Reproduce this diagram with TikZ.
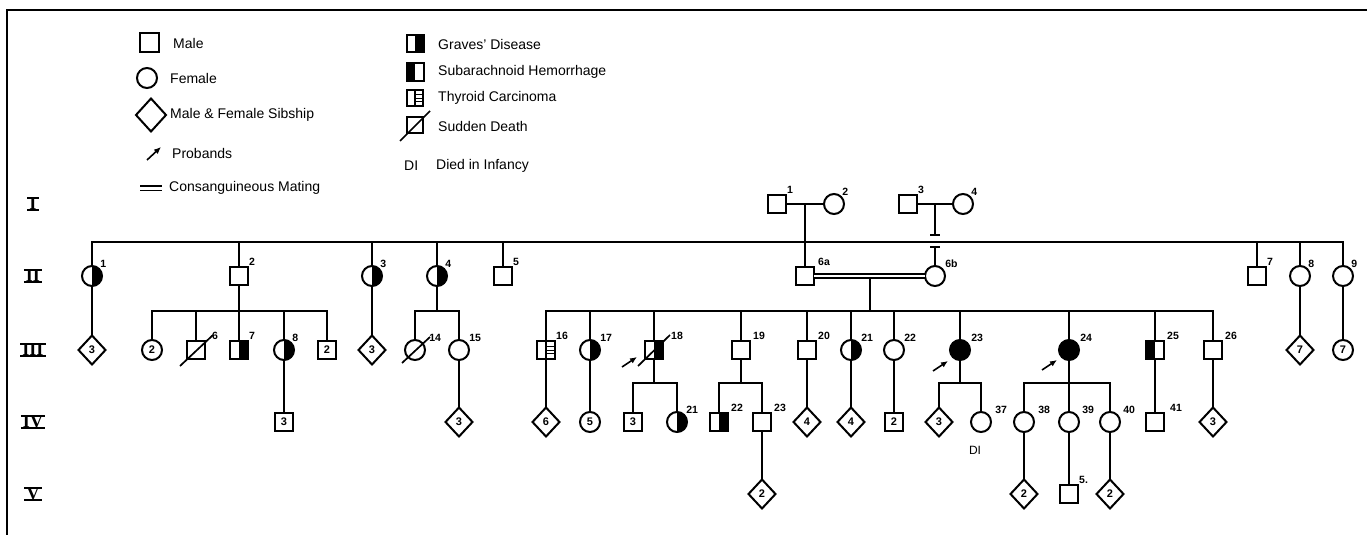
\documentclass[tikz,border=0pt]{standalone}
\usepackage{fontspec}
\setmainfont{Liberation Sans}
\newfontfamily\romfont{Liberation Serif}
\usetikzlibrary{shapes.geometric,arrows.meta,calc}
\tikzset{
 ln/.style={line width=2pt},
 sym/.style={draw, line width=2pt, inner sep=0pt, outer sep=0pt, font=\bfseries\fontsize{11}{11}\selectfont},
 sq/.style={sym, rectangle, minimum size=18pt},
 ci/.style={sym, circle, minimum size=20pt},
 di/.style={sym, diamond, aspect=1, minimum width=27pt, minimum height=29pt},
 rh/.style={path picture={\fill[black] (path picture bounding box.north) rectangle (path picture bounding box.south east);}},
 lh/.style={path picture={\fill[black] (path picture bounding box.north west) rectangle (path picture bounding box.south);}},
 fb/.style={fill=black},
 th/.style={path picture={
   \draw[line width=1.3pt] (path picture bounding box.north) -- (path picture bounding box.south);
   \foreach \f in {0.3,0.5,0.7}{\draw[line width=1pt] ($(path picture bounding box.north)!\f!(path picture bounding box.south)$) -- ($(path picture bounding box.north east)!\f!(path picture bounding box.south east)$);}
 }},
 lab/.style={font=\bfseries\fontsize{10.5}{10.5}\selectfont, inner sep=1pt, anchor=south west},
 legtext/.style={font=\fontsize{14}{14}\selectfont, anchor=west, inner sep=0pt},
 gen/.style={font=\romfont\bfseries\fontsize{18}{18}\selectfont, inner sep=0pt},
 prob/.style={line width=1.6pt, -{Latex[length=7pt,width=6pt]}},
 slash/.style={line width=1.7pt},
}
\begin{document}
\begin{tikzpicture}[x=1pt,y=-1pt]
\useasboundingbox (0,0) rectangle (1367,535);
% frame
\draw[line width=2.8pt] (7,535) -- (7,10) -- (1367,10);

% ---------- legend ----------
\node[sq, minimum size=19pt] (lgM) at (149,43) {};
\node[legtext] (lgMt) at (173,43) {Male};
\node[ci, minimum size=20pt] (lgF) at (147,78) {};
\node[legtext] (lgFt) at (170,78) {Female};
\node[di, minimum width=30pt, minimum height=33pt] (lgS) at (151,115) {};
\node[legtext] (lgSt) at (170,115) {Male \& Female Sibship};
\draw[prob] (147,160) -- (161,147);
\node[legtext] (lgPt) at (172,153) {Probands};
\draw[line width=1.5pt] (140,186) -- (162,186);
\draw[line width=1.5pt] (140,190.5) -- (162,190.5);
\node[legtext] (lgCt) at (169,188) {Consanguineous Mating};

\node[sq, rh, minimum size=17pt] (lgG) at (415,44) {};
\node[legtext] (lgGt) at (438,44) {Graves' Disease};
\node[sq, lh, minimum size=17pt] (lgH) at (415,72) {};
\node[legtext] (lgHt) at (438,72) {Subarachnoid Hemorrhage};
\node[sq, th, minimum size=16pt] (lgT) at (415,98) {};
\node[legtext] (lgTt) at (438,98) {Thyroid Carcinoma};
\node[sq, minimum size=16pt] (lgD) at (415,125) {};
\draw[slash] (400,141) -- (430,111);
\node[legtext] (lgDt) at (438,126) {Sudden Death};
\node[legtext] (lgI) at (404,166) {DI};
\node[legtext] (lgIt) at (436,166) {Died in Infancy};

% ---------- generation numerals ----------
\node[gen] (gI) at (33,204) {I};
\node[gen] (gII) at (33,276) {II};
\node[gen] (gIII) at (33,350) {III};
\node[gen] (gIV) at (33,422) {IV};
\node[gen] (gV) at (33,494) {V};
\foreach \g in {gI,gII,gIII,gIV,gV}{
  \draw[line width=1.9pt] ([xshift=-2pt]\g.north west) -- ([xshift=2pt]\g.north east);
  \draw[line width=1.9pt] ([xshift=-2pt]\g.south west) -- ([xshift=2pt]\g.south east);
}

% ---------- generation I ----------
\node[sq, label={[lab]45:1}] (I1) at (777,204) {};
\node[ci, label={[lab]45:2}] (I2) at (834,204) {};
\node[sq, label={[lab]45:3}] (I3) at (908,204) {};
\node[ci, label={[lab]45:4}] (I4) at (963,204) {};
\draw[ln] (I1) -- (I2);
\draw[ln] (I3) -- (I4);
\coordinate (m12) at ($(I1.east)!0.5!(I2.west)$);
\coordinate (m34) at ($(I3.east)!0.5!(I4.west)$);

% ---------- generation II ----------
\node[ci, rh, label={[lab]45:1}] (II1) at (92,276) {};
\node[sq, label={[lab]45:2}] (II2) at (239,276) {};
\node[ci, rh, label={[lab]45:3}] (II3) at (372,276) {};
\node[ci, rh, label={[lab]45:4}] (II4) at (437,276) {};
\node[sq, label={[lab]45:5}] (II5) at (503,276) {};
\node[sq, label={[lab,xshift=3pt]45:6a}] (II6a) at (805,276) {};
\node[ci, label={[lab,xshift=2pt]45:6b}] (II6b) at (935,276) {};
\node[sq, label={[lab]45:7}] (II7) at (1257,276) {};
\node[ci, label={[lab]45:8}] (II8) at (1300,276) {};
\node[ci, label={[lab]45:9}] (II9) at (1343,276) {};

\coordinate (s1) at (805,242);
\draw[ln] (II1.north) |- (s1) -| (II9.north);
\foreach \n in {II2,II3,II4,II5,II7,II8} \draw[ln] (\n.north) -- (\n.north |- s1);
\draw[ln] (m12) -- (II6a.north);
\coordinate (t1) at ($(m34)+(0,31)$);
\coordinate (t2) at ($(m34)+(0,43)$);
\draw[ln] (m34) -- (t1);
\draw[line width=1.4pt] ([xshift=-5pt]t1) -- ([xshift=5pt]t1);
\draw[line width=1.4pt] ([xshift=-5pt]t2) -- ([xshift=5pt]t2);
\draw[ln] (t2) -- (II6b.north);
\draw[line width=1.5pt, double, double distance=2.6pt] (II6a.east) -- (II6b.west);
\coordinate (m6) at ($(II6a.east)!0.5!(II6b.west)$);
\coordinate (s6) at ($(m6)+(0,35)$);
\draw[ln] ([yshift=-2.8pt]m6) -- (s6);

% ---------- generation III ----------
\node[di] (III1) at (92,350) {3};
\draw[ln] (II1.south) -- (III1.north);

\coordinate (s2) at (239,311);
\node[ci] (IIIa) at (152,350) {2};
\node[sq, label={[lab,xshift=6pt]45:6}] (III6) at (196,350) {};
\node[sq, rh, label={[lab]45:7}] (III7) at (239,350) {};
\node[ci, rh, label={[lab]45:8}] (III8) at (284,350) {};
\node[sq] (IIIb) at (327,350) {2};
\draw[ln] (II2.south) -- (s2);
\draw[ln] (IIIa.north) |- (s2) -| (IIIb.north);
\foreach \n in {III6,III7,III8} \draw[ln] (\n.north) -- (\n.north |- s2);
\draw[slash] ([shift={(-16,16)}]III6.center) -- ([shift={(17,-15)}]III6.center);

\node[di] (IIIc) at (372,350) {3};
\draw[ln] (II3.south) -- (IIIc.north);

\coordinate (s3) at (437,311);
\node[ci, label={[lab,xshift=6pt]45:14}] (III14) at (415,350) {};
\node[ci, label={[lab,xshift=2pt]45:15}] (III15) at (459,350) {};
\draw[ln] (II4.south) -- (s3);
\draw[ln] (III14.north) |- (s3) -| (III15.north);
\draw[slash] ([shift={(-13,13)}]III14.center) -- ([shift={(15,-13)}]III14.center);

\node[sq, th, label={[lab]45:16}] (III16) at (546,350) {};
\node[ci, rh, label={[lab,xshift=2pt]45:17}] (III17) at (590,350) {};
\node[sq, rh, label={[lab,xshift=7pt]45:18}] (III18) at (654,350) {};
\node[sq, label={[lab,xshift=2pt]45:19}] (III19) at (741,350) {};
\node[sq, label={[lab,xshift=1pt]45:20}] (III20) at (807,350) {};
\node[ci, rh, label={[lab,xshift=2pt]45:21}] (III21) at (851,350) {};
\node[ci, label={[lab,xshift=2pt]45:22}] (III22) at (894,350) {};
\node[ci, fb, label={[lab,xshift=3pt]45:23}] (III23) at (960,350) {};
\node[ci, fb, label={[lab,xshift=3pt]45:24}] (III24) at (1069,350) {};
\node[sq, lh, label={[lab,xshift=2pt]45:25}] (III25) at (1155,350) {};
\node[sq, label={[lab,xshift=2pt]45:26}] (III26) at (1213,350) {};
\draw[ln] (III16.north) |- (s6) -| (III26.north);
\foreach \n in {III17,III18,III19,III20,III21,III22,III23,III24,III25} \draw[ln] (\n.north) -- (\n.north |- s6);
\draw[slash] ([shift={(-16,16)}]III18.center) -- ([shift={(16,-15)}]III18.center);
\draw[prob] ([shift={(-32,17)}]III18.center) -- ([shift={(-17,7)}]III18.center);
\draw[prob] ([shift={(-27,21)}]III23.center) -- ([shift={(-12,11)}]III23.center);
\draw[prob] ([shift={(-27,20)}]III24.center) -- ([shift={(-12,10)}]III24.center);

\node[di] (IIId) at (1300,350) {7};
\node[ci] (IIIe) at (1343,350) {7};
\draw[ln] (II8.south) -- (IIId.north);
\draw[ln] (II9.south) -- (IIIe.north);

% ---------- generation IV ----------
\node[sq] (IVa) at (284,422) {3};
\draw[ln] (III8.south) -- (IVa.north);
\node[di] (IVb) at (459,422) {3};
\draw[ln] (III15.south) -- (IVb.north);
\node[di] (IVc) at (546,422) {6};
\draw[ln] (III16.south) -- (IVc.north);
\node[ci] (IVd) at (590,422) {5};
\draw[ln] (III17.south) -- (IVd.north);

\coordinate (s18) at (654,383);
\node[sq] (IVe) at (633,422) {3};
\node[ci, rh, label={[lab,xshift=1pt]45:21}] (IV21) at (677,422) {};
\draw[ln] (III18.south) -- (s18);
\draw[ln] (IVe.north) |- (s18) -| (IV21.north);

\coordinate (s19) at (741,383);
\node[sq, rh, label={[lab,xshift=2pt]45:22}] (IV22) at (719,422) {};
\node[sq, label={[lab,xshift=2pt]45:23}] (IV23) at (762,422) {};
\draw[ln] (III19.south) -- (s19);
\draw[ln] (IV22.north) |- (s19) -| (IV23.north);

\node[di] (IVf) at (807,422) {4};
\draw[ln] (III20.south) -- (IVf.north);
\node[di] (IVg) at (851,422) {4};
\draw[ln] (III21.south) -- (IVg.north);
\node[sq] (IVh) at (894,422) {2};
\draw[ln] (III22.south) -- (IVh.north);

\coordinate (s23) at (960,383);
\node[di] (IVi) at (939,422) {3};
\node[ci, label={[lab,xshift=6pt]45:37}] (IV37) at (981,422) {};
\node[font=\fontsize{12}{12}\selectfont] (DI) at (975,450) {DI};
\draw[ln] (III23.south) -- (s23);
\draw[ln] (IVi.north) |- (s23) -| (IV37.north);

\coordinate (s24) at (1069,383);
\node[ci, label={[lab,xshift=6pt]45:38}] (IV38) at (1024,422) {};
\node[ci, label={[lab,xshift=5pt]45:39}] (IV39) at (1069,422) {};
\node[ci, label={[lab,xshift=5pt]45:40}] (IV40) at (1110,422) {};
\draw[ln] (III24.south) -- (IV39.north);
\draw[ln] (IV38.north) |- (s24) -| (IV40.north);

\node[sq, label={[lab,xshift=5pt]45:41}] (IV41) at (1155,422) {};
\draw[ln] (III25.south) -- (IV41.north);
\node[di] (IVj) at (1213,422) {3};
\draw[ln] (III26.south) -- (IVj.north);

% ---------- generation V ----------
\node[di] (Va) at (762,494) {2};
\draw[ln] (IV23.south) -- (Va.north);
\node[di] (Vb) at (1024,494) {2};
\draw[ln] (IV38.south) -- (Vb.north);
\node[sq, label={[lab]45:5.}] (V5) at (1069,494) {};
\draw[ln] (IV39.south) -- (V5.north);
\node[di] (Vc) at (1110,494) {2};
\draw[ln] (IV40.south) -- (Vc.north);
\end{tikzpicture}
\end{document}
